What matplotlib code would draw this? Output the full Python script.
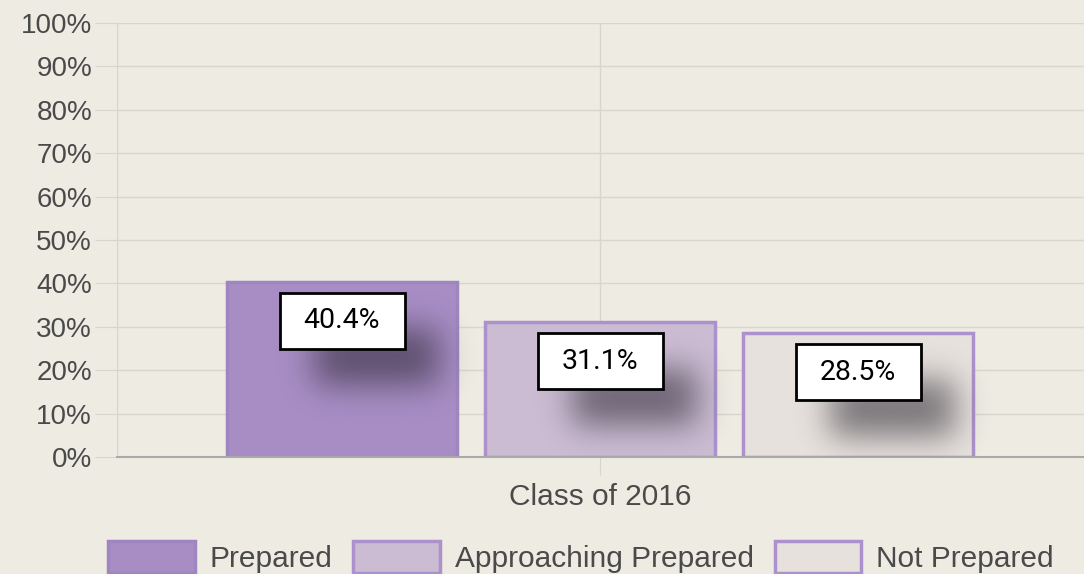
import math
import numpy as np
import matplotlib
matplotlib.use("Agg")
import matplotlib.pyplot as plt
from matplotlib.patches import Rectangle, Patch

categories = ["Class of 2016"]
series = ["Prepared", "Approaching Prepared", "Not Prepared"]
values = [40.4, 31.1, 28.5]
yticks = [0, 10, 20, 30, 40, 50, 60, 70, 80, 90, 100]

fills = ["#a78dc4", "#cbbcd3", "#e6e1dd"]
edges = ["#9f86c0", "#ac91cc", "#ac91cc"]
bg = "#eeebe3"

W, H = 1084, 574
fig = plt.figure(figsize=(W / 100, H / 100), dpi=100, facecolor=bg)
# axes in pixels: x 117..1084, y 23..457
ax = fig.add_axes([117 / W, 1 - 457 / H, (W - 117) / W, (457 - 23) / H])
ax.set_facecolor(bg)

step = 258.0  # px between bar centres
xmin, xmax = -483 / step, 484 / step
ax.set_xlim(xmin, xmax)
ax.set_ylim(0, 100)
sx = (xmax - xmin) / (W - 117)   # data per px
sy = 100 / 434.0

offsets = [-1, 0, 1]
bw = 230 / step
for off, v, fc, ec in zip(offsets, values, fills, edges):
    ax.bar(off, v, width=bw, color=fc, edgecolor=ec, linewidth=2.5, zorder=2)

# label boxes with a soft drop shadow
bx_w, bx_h = 125 * sx, 56 * sy
sig = 16.0
erf = np.vectorize(math.erf)
for off, v in zip(offsets, values):
    top = v - 11 * sy
    x0 = off - bx_w / 2
    y0 = top - bx_h
    # shadow: blurred rect shifted right/down
    sx0, sx1 = x0 + 34 * sx, x0 + bx_w + 34 * sx
    sy1, sy0 = top - 36 * sy, y0 - 36 * sy
    ex0, ex1 = sx0 - 55 * sx, sx1 + 55 * sx
    ey0, ey1 = sy0 - 55 * sy, sy1 + 55 * sy
    nx, ny = 140, 110
    gx = np.linspace(ex0, ex1, nx)
    gy = np.linspace(ey1, ey0, ny)
    ax_ = 0.5 * (erf((gx - sx0) / (sx * sig * 1.414)) - erf((gx - sx1) / (sx * sig * 1.414)))
    ay_ = 0.5 * (erf((gy - sy0) / (sy * sig * 1.414)) - erf((gy - sy1) / (sy * sig * 1.414)))
    a = np.outer(ay_, ax_) * 0.55
    img = np.zeros((ny, nx, 4))
    img[..., 0] = 0.13
    img[..., 1] = 0.11
    img[..., 2] = 0.15
    img[..., 3] = a
    ax.imshow(img, extent=(ex0, ex1, ey0, ey1), aspect="auto", zorder=3,
              interpolation="bilinear")
    ax.add_patch(Rectangle((x0, y0), bx_w, bx_h, facecolor="white",
                           edgecolor="black", linewidth=2, zorder=4))
    ax.text(off, y0 + bx_h / 2, f"{v}%", ha="center", va="center",
            fontsize=20.5, family="Roboto", color="black", zorder=5)

ax.set_xlim(xmin, xmax)
ax.set_ylim(0, 100)

ax.set_yticks(yticks)
ax.set_yticklabels([f"{t}%" for t in yticks])
ax.set_xticks([0])
ax.set_xticklabels(categories)
ax.grid(True, color="#d8d5cc", linewidth=1, zorder=0)
ax.set_axisbelow(True)
ax.tick_params(axis="y", length=16, color="#d8d5cc", labelsize=20,
               labelcolor="#4a4a4a", pad=2)
ax.tick_params(axis="x", length=13, color="#d8d5cc", labelsize=21.5,
               labelcolor="#4a4a4a", pad=6)
for lab in ax.get_xticklabels() + ax.get_yticklabels():
    lab.set_family("Liberation Sans")
for s in ["top", "right", "left"]:
    ax.spines[s].set_visible(False)
ax.spines["bottom"].set_color("#aaaaaa")
ax.spines["bottom"].set_linewidth(1.5)
ax.axvline(xmin, color="#d8d5cc", linewidth=1, zorder=0)

handles = [Patch(facecolor=fc, edgecolor=ec, linewidth=2.5)
           for fc, ec in zip(fills, edges)]
fig.legend(handles, series, loc="center", bbox_to_anchor=(581 / W, 1 - 557 / H),
           ncol=3, frameon=False, prop={"family": "Liberation Sans", "size": 21.5},
           labelcolor="#4a4a4a", handlelength=2.9, handleheight=1.3,
           handletextpad=0.5, columnspacing=0.7)

fig.savefig("out.png", dpi=100, facecolor=bg)
